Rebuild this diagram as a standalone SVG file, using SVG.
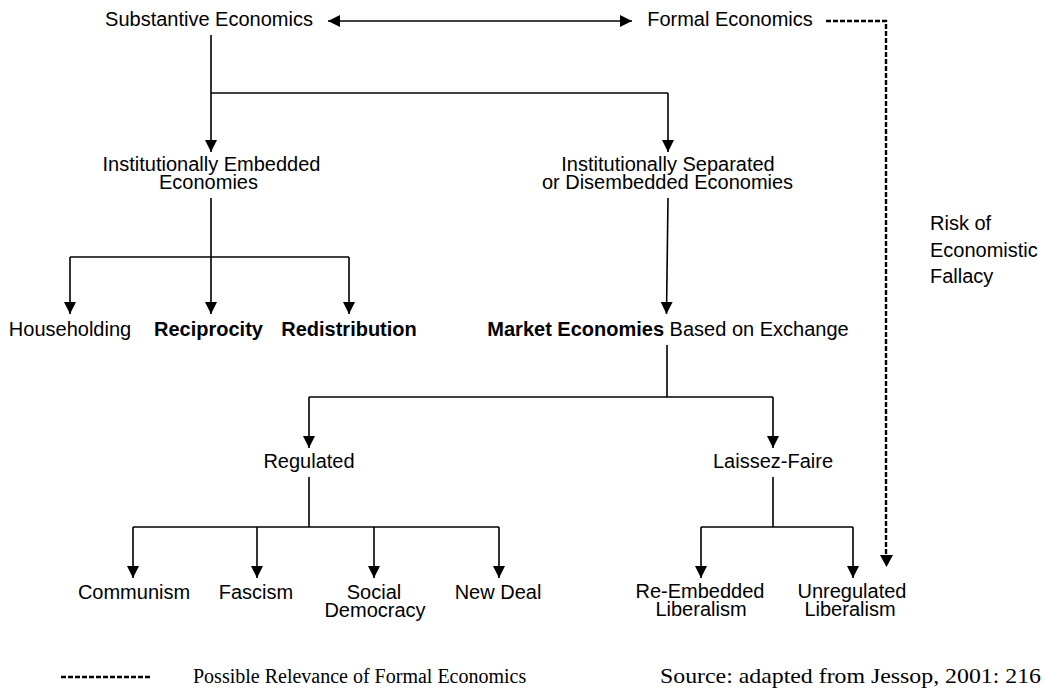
<svg xmlns="http://www.w3.org/2000/svg" width="1045" height="700" viewBox="0 0 1045 700">
<style>
  .lbl { font-family: "Liberation Sans", Arial, sans-serif; font-size: 20px; fill: #000; }
  .c { text-anchor: middle; }
  .b { font-weight: bold; }
  .ser { font-family: "Liberation Serif", "Times New Roman", serif; fill: #000; }
  .ln { stroke: #000; stroke-width: 1.6; fill: none; }
  .arr { marker-end: url(#ah); }
  .dash { stroke: #000; stroke-width: 2.4; fill: none; stroke-dasharray: 5 2; }
</style>
<defs>
  <marker id="ah" markerUnits="userSpaceOnUse" markerWidth="12" markerHeight="12" refX="12" refY="6" orient="auto">
    <path d="M0,0 L12,6 L0,12 Z" fill="#000"/>
  </marker>
  <marker id="ahs" markerUnits="userSpaceOnUse" markerWidth="12" markerHeight="12" refX="12" refY="6" orient="auto-start-reverse">
    <path d="M0,0 L12,6 L0,12 Z" fill="#000"/>
  </marker>
</defs>
<rect width="1045" height="700" fill="#fff"/>

<g id="connectors">
  <path class="ln" d="M328,21 H632" marker-start="url(#ahs)" marker-end="url(#ahs)"/>
  <path class="dash" d="M826,21 H886 V555"/>
  <path d="M880,555 L893,555 L886.5,567 Z" fill="#000"/>
  <path class="ln" d="M211,35 V93"/>
  <path class="ln" d="M211,93 H668"/>
  <path class="ln arr" d="M211,93 V152"/>
  <path class="ln arr" d="M668,93 V152"/>
  <path class="ln" d="M211,198 V257"/>
  <path class="ln" d="M70,257 H349"/>
  <path class="ln arr" d="M70,257 V314"/>
  <path class="ln arr" d="M211,257 V314"/>
  <path class="ln arr" d="M349,257 V314"/>
  <path class="ln arr" d="M668,198 L666.5,314"/>
  <path class="ln" d="M667,345 V397"/>
  <path class="ln" d="M309,397 H773"/>
  <path class="ln arr" d="M309,397 V448"/>
  <path class="ln arr" d="M773,397 V448"/>
  <path class="ln" d="M309,477 V527"/>
  <path class="ln" d="M133,527 H499"/>
  <path class="ln arr" d="M133,527 V578"/>
  <path class="ln arr" d="M257,527 V578"/>
  <path class="ln arr" d="M374,527 V578"/>
  <path class="ln arr" d="M499,527 V578"/>
  <path class="ln" d="M773,477 V527"/>
  <path class="ln" d="M701,527 H853"/>
  <path class="ln arr" d="M701,527 V578"/>
  <path class="ln arr" d="M853,527 V578"/>
</g>

<g id="substantive"><text class="lbl c" x="209" y="26">Substantive Economics</text></g>
<g id="formal"><text class="lbl c" x="730" y="26">Formal Economics</text></g>
<g id="embedded">
  <text class="lbl c" x="211.5" y="171">Institutionally Embedded</text>
  <text class="lbl c" x="208.5" y="189">Economies</text>
</g>
<g id="disembedded">
  <text class="lbl c" x="668" y="171">Institutionally Separated</text>
  <text class="lbl c" x="667.5" y="189">or Disembedded Economies</text>
</g>
<g id="risk">
  <text class="lbl" x="930" y="230">Risk of</text>
  <text class="lbl" x="930" y="257">Economistic</text>
  <text class="lbl" x="930" y="283">Fallacy</text>
</g>
<g id="householding"><text class="lbl c" x="70" y="336">Householding</text></g>
<g id="reciprocity"><text class="lbl c b" x="208.5" y="336">Reciprocity</text></g>
<g id="redistribution"><text class="lbl c b" x="349" y="336">Redistribution</text></g>
<g id="market"><text class="lbl c" x="668" y="336"><tspan class="b">Market Economies</tspan> Based on Exchange</text></g>
<g id="regulated"><text class="lbl c" x="309" y="468">Regulated</text></g>
<g id="laissez"><text class="lbl c" x="773" y="468">Laissez-Faire</text></g>
<g id="communism"><text class="lbl c" x="134" y="599">Communism</text></g>
<g id="fascism"><text class="lbl c" x="256" y="599">Fascism</text></g>
<g id="socialdemocracy">
  <text class="lbl c" x="374" y="599">Social</text>
  <text class="lbl c" x="375" y="617">Democracy</text>
</g>
<g id="newdeal"><text class="lbl c" x="498" y="599">New Deal</text></g>
<g id="reembedded">
  <text class="lbl c" x="700" y="598">Re-Embedded</text>
  <text class="lbl c" x="701" y="616">Liberalism</text>
</g>
<g id="unregulated">
  <text class="lbl c" x="852" y="598">Unregulated</text>
  <text class="lbl c" x="850" y="616">Liberalism</text>
</g>

<g id="legend">
  <path class="dash" d="M61,677 H150"/>
  <text class="ser" x="193" y="683" font-size="20">Possible Relevance of Formal Economics</text>
</g>
<g id="source">
  <text class="ser" x="1041" y="683" font-size="22" text-anchor="end" textLength="381" lengthAdjust="spacingAndGlyphs">Source: adapted from Jessop, 2001: 216</text>
</g>
</svg>
